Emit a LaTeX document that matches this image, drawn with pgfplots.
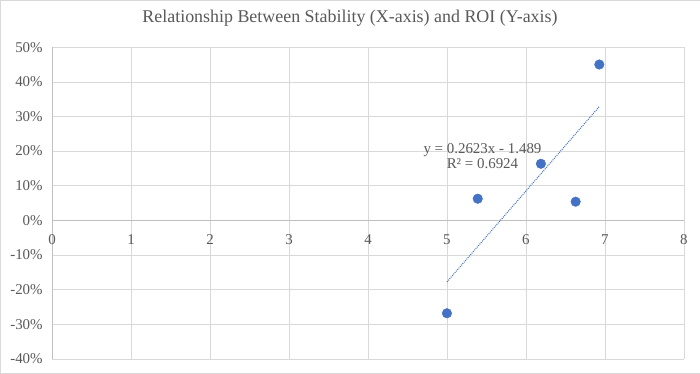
\documentclass[border=0pt]{standalone}
\usepackage{pgfplots}
\pgfplotsset{compat=1.18}
\usepackage{fontspec}
\setmainfont{Liberation Serif}
\definecolor{txt}{HTML}{595959}
\definecolor{grd}{HTML}{D9D9D9}
\definecolor{axl}{HTML}{BFBFBF}
\definecolor{blu}{HTML}{4472C4}
\begin{document}
\begin{tikzpicture}
\draw[draw=grd, fill=white] (0,0) rectangle (700bp,373bp);
\node[text=txt, font=\fontsize{18}{22}\selectfont] at (350bp,355bp) {Relationship Between Stability (X-axis) and ROI (Y-axis)};
\begin{axis}[
  at={(52bp,14bp)}, anchor=south west,
  scale only axis, width=632bp, height=312bp,
  xmin=0, xmax=8, ymin=-40, ymax=50,
  xtick={0,1,...,8}, ytick={-40,-30,...,50},
  axis x line=bottom, axis y line=left,
  x axis line style={draw=grd, -},
  y axis line style={draw=axl, -},
  grid=major, major grid style={draw=grd, line width=0.6pt},
  major tick length=0pt,
  tick label style={text=txt, font=\fontsize{15}{17}\selectfont},
  /pgf/number format/assume math mode=true,
  yticklabel={\pgfmathprintnumber{\tick}\%},
  yticklabel style={xshift=-6bp},
  xticklabel style={yshift=128bp},
  clip=false,
]
\draw[axl, line width=0.8pt] (axis cs:0,0) -- (axis cs:8,0);
\addplot[only marks, mark=*, mark size=4.8bp, mark options={fill=blu, draw=blu}] coordinates {
  (6.93,45.0) (6.19,16.35) (5.39,6.26) (6.63,5.4) (5.00,-26.8)
};
\addplot[blu, line width=1.1pt, dash pattern=on 0.9pt off 1.1pt] coordinates {(5.00,-17.75) (6.93,32.87)};
\node[text=txt, font=\fontsize{15}{17}\selectfont, align=center] at (axis cs:5.45,18.6) {y = 0.2623x - 1.489\\[-2pt]R² = 0.6924};
\end{axis}
\end{tikzpicture}
\end{document}
